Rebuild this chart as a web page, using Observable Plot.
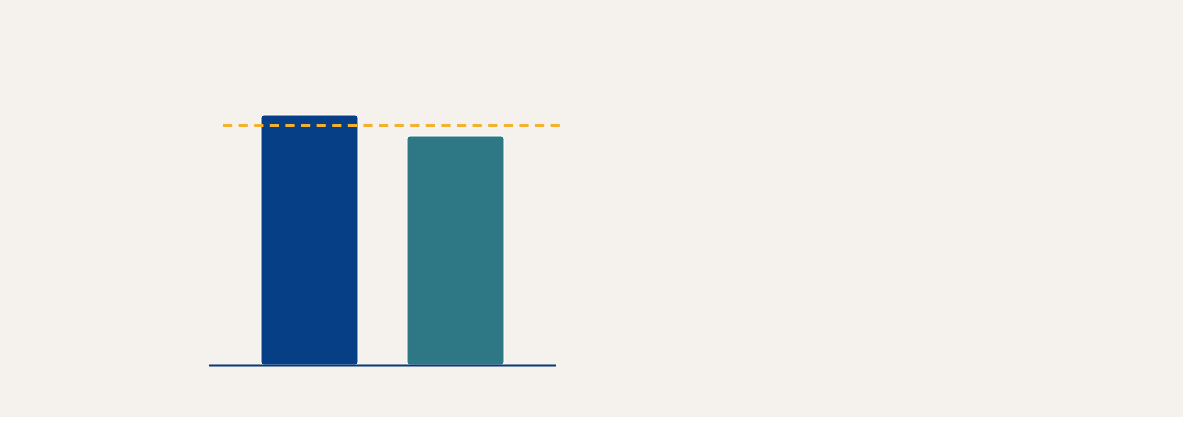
<!DOCTYPE html>
<html>
<head>
<meta charset="utf-8">
<script src="https://cdn.jsdelivr.net/npm/d3@7"></script>
<script src="https://cdn.jsdelivr.net/npm/@observablehq/plot@0.6"></script>
<style>
  html, body { margin: 0; padding: 0; background: #ffffff; }
  #chart svg { display: block; }
</style>
</head>
<body>
<div id="chart"></div>
<script>
const categories = ["A", "B"];
const values = [100, 91.6];
const barColors = ["#073f86", "#2e7785"];
const target = [96];

const data = categories.map((c, i) => ({category: c, value: values[i], color: barColors[i]}));

const chart = Plot.plot({
  width: 1183,
  height: 417,
  marginLeft: 209,
  marginRight: 1183 - 556,
  marginTop: 115,
  marginBottom: 52,
  style: {background: "#f5f2ed", overflow: "visible"},
  x: {domain: categories, paddingInner: 0.336, paddingOuter: 0.356, axis: null},
  y: {domain: [0, 100], axis: null},
  marks: [
    Plot.barY(data, {x: "category", y: "value", fill: "color", stroke: "#ffffff", strokeWidth: 1, rx: 3}),
    Plot.ruleY(target, {stroke: "#f4b12f", strokeWidth: 3, strokeDasharray: "9.2,6.4", insetLeft: 14, insetRight: -4}),
    Plot.ruleY([0], {stroke: "#08377a", strokeWidth: 2})
  ]
});
document.getElementById("chart").appendChild(chart);
</script>
</body>
</html>
